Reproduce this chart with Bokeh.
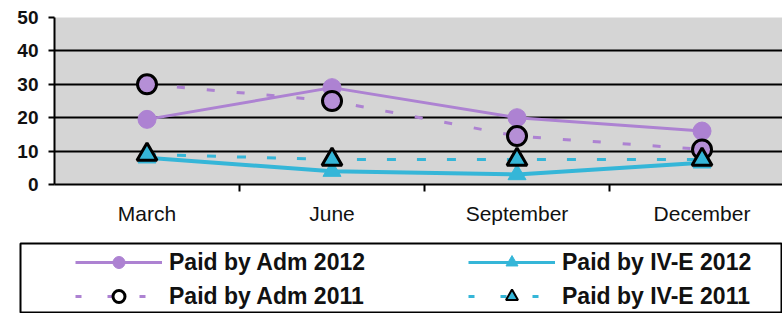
from bokeh.plotting import figure
from bokeh.models import Range1d, FixedTicker, Legend, LegendItem, ColumnDataSource
from bokeh.layouts import column
from bokeh.embed import file_html
from bokeh.resources import INLINE

# ---- data ----
months = ["March", "June", "September", "December"]
adm_2012 = [19.5, 29, 20, 16]
adm_2011 = [30, 25, 14.5, 10.5]
ive_2012 = [8, 4, 3, 6.5]
ive_2011 = [9, 7.5, 7.5, 7.5]
y_ticks = [0, 10, 20, 30, 40, 50]
series_labels = ["Paid by Adm 2012", "Paid by Adm 2011", "Paid by IV-E 2012", "Paid by IV-E 2011"]

PURPLE = "#ad82d2"
PURPLE_FILL = "#b58fd6"
CYAN = "#35b6d8"
BG = "#d5d5d5"
FONT = "Liberation Sans"

xs = [i + 0.5 for i in range(len(months))]
boundaries = [i for i in range(1, len(months))]

p = figure(width=782, height=241, x_range=Range1d(0, 3.935), y_range=Range1d(0, 50),
           toolbar_location=None, output_backend="svg",
           min_border_left=54, min_border_right=0, min_border_top=17, min_border_bottom=57)
p.background_fill_color = BG
p.border_fill_color = "white"
p.outline_line_color = None

# x axis
xa = p.xaxis[0]
xa.ticker = FixedTicker(ticks=xs, minor_ticks=boundaries)
xa.major_label_overrides = {x: m for x, m in zip(xs, months)}
xa.major_tick_out = 0
xa.major_tick_in = 0
xa.minor_tick_out = 7
xa.minor_tick_in = 0
xa.minor_tick_line_color = "black"
xa.minor_tick_line_width = 2
xa.axis_line_color = "black"
xa.axis_line_width = 2
xa.major_label_text_font = FONT
xa.major_label_text_font_size = "21px"
xa.major_label_text_color = "#111111"
xa.major_label_standoff = 10

# y axis
ya = p.yaxis[0]
ya.ticker = FixedTicker(ticks=y_ticks)
ya.major_tick_out = 6
ya.major_tick_in = 0
ya.major_tick_line_width = 2
ya.minor_tick_line_color = None
ya.axis_line_color = "black"
ya.axis_line_width = 2
ya.major_label_text_font = FONT
ya.major_label_text_font_style = "bold"
ya.major_label_text_font_size = "19px"
ya.major_label_text_color = "#111111"
ya.major_label_standoff = 10

p.xgrid.grid_line_color = None
p.ygrid.ticker = FixedTicker(ticks=y_ticks)
p.ygrid.grid_line_color = "black"
p.ygrid.grid_line_width = 2

src = ColumnDataSource(dict(x=xs, a12=adm_2012, a11=adm_2011, i12=ive_2012, i11=ive_2011))

p.line("x", "a12", source=src, line_color=PURPLE, line_width=3)
p.line("x", "a11", source=src, line_color=PURPLE, line_width=3, line_dash="8 22")
p.line("x", "i12", source=src, line_color=CYAN, line_width=4)
p.line("x", "i11", source=src, line_color=CYAN, line_width=3, line_dash="9 21")
p.scatter("x", "a12", source=src, marker="circle", size=18, fill_color=PURPLE, line_color=PURPLE)
p.scatter("x", "i12", source=src, marker="triangle", size=18, fill_color=CYAN, line_color=CYAN)
p.scatter("x", "a11", source=src, marker="circle", size=19, fill_color=PURPLE_FILL,
          line_color="black", line_width=3)
p.scatter("x", "i11", source=src, marker="triangle", size=20, fill_color=CYAN,
          line_color="black", line_width=3)

# ---- legend panel (its renderers use the same data, outside its visible range) ----
lg = figure(width=782, height=72, x_range=Range1d(100, 101), y_range=Range1d(100, 101),
            toolbar_location=None, output_backend="svg",
            x_axis_location=None, y_axis_location=None,
            min_border_left=20, min_border_right=0, min_border_top=2, min_border_bottom=1)
lg.frame_align = False
lg.xgrid.visible = False
lg.ygrid.visible = False
lg.outline_line_color = "black"
lg.outline_line_width = 2
lg.background_fill_color = "white"

l1 = lg.line("x", "a12", source=src, line_color=PURPLE, line_width=3)
m1 = lg.scatter("x", "a12", source=src, marker="circle", fill_color=PURPLE, line_color=PURPLE)
l2 = lg.line("x", "a11", source=src, line_color=PURPLE, line_width=3, line_dash="6 26")
m2 = lg.scatter("x", "a11", source=src, marker="circle", fill_color="white", line_color="black", line_width=3)
l3 = lg.line("x", "i12", source=src, line_color=CYAN, line_width=3)
m3 = lg.scatter("x", "i12", source=src, marker="triangle", fill_color=CYAN, line_color=CYAN)
l4 = lg.line("x", "i11", source=src, line_color=CYAN, line_width=3, line_dash="6 26")
m4 = lg.scatter("x", "i11", source=src, marker="triangle", fill_color=CYAN, line_color="black", line_width=2)

items = [
    LegendItem(label=series_labels[0], renderers=[l1, m1]),
    LegendItem(label=series_labels[1], renderers=[l2, m2]),
    LegendItem(label=series_labels[2], renderers=[l3, m3]),
    LegendItem(label=series_labels[3], renderers=[l4, m4]),
]
legend = Legend(items=items, ncols=2, location=(55, 1), margin=0, padding=0,
                spacing=4, glyph_width=87, glyph_height=30, label_standoff=7,
                label_width=295, label_height=30,
                border_line_alpha=0, background_fill_alpha=0,
                label_text_font=FONT, label_text_font_style="bold",
                label_text_font_size="23px", label_text_color="#111111")
lg.add_layout(legend, "center")

layout = column(p, lg, spacing=0)
open("out.html", "w").write(file_html(layout, INLINE))
